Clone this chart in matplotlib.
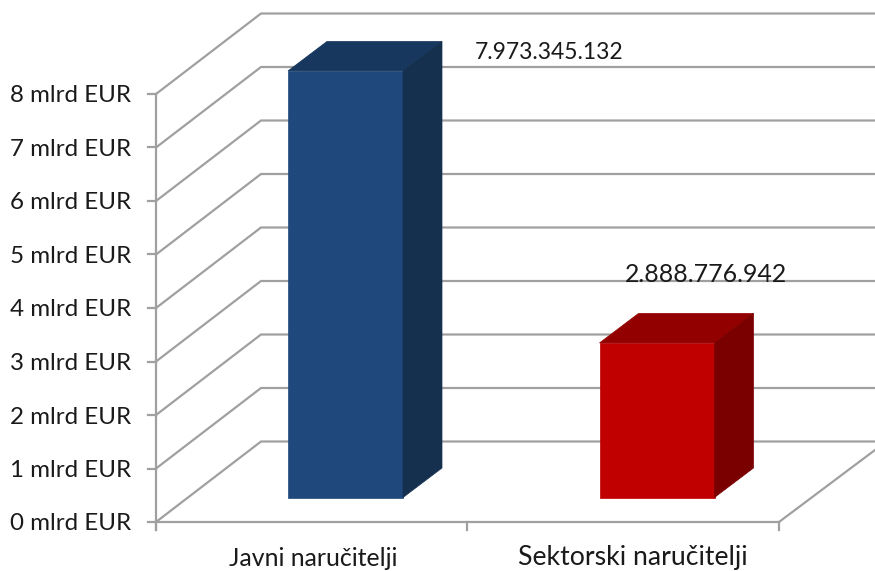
import matplotlib
matplotlib.use("Agg")
import matplotlib.pyplot as plt
from matplotlib.patches import Polygon

categories = ["Javni naručitelji", "Sektorski naručitelji"]
values = [7973345132, 2888776942]
value_labels = ["7.973.345.132", "2.888.776.942"]
tick_values = [0, 1, 2, 3, 4, 5, 6, 7, 8]
tick_labels = [f"{t} mlrd EUR" for t in tick_values]

plt.rcParams["font.family"] = ["Lato", "DejaVu Sans"]

W, H = 875, 571
UNIT = 53.5      # px per 1 mlrd
Y0 = 522         # px row of the zero line
TEXT = "#1a1a1a"
GRID = "#a0a0a0"

fig = plt.figure(figsize=(W / 100, H / 100), dpi=100)
ax = fig.add_axes([0, 0, 1, 1])
# x stays in pixels, y is in mlrd EUR
ax.set_xlim(0, W)
ax.set_ylim((Y0 - H) / UNIT, Y0 / UNIT)
ax.axis("off")

px = 1 / UNIT
# 3D offset of the back wall
wall_dx, wall_dy = 105, 80.5 * px
x_left, x_right = 156, 779

# gridlines: side wall then back wall
for t in tick_values:
    ax.plot([x_left, x_left + wall_dx, W], [t, t + wall_dy, t + wall_dy],
            color=GRID, lw=1.6, solid_joinstyle="miter", zorder=1)
    ax.plot([x_left - 8, x_left], [t, t], color=GRID, lw=1.6, zorder=1)
    ax.text(131, t - 2 * px, tick_labels[t], ha="right", va="center", fontsize=17.4, color=TEXT)

# axes and floor
ax.plot([x_left, x_left], [-8 * px, tick_values[-1]], color=GRID, lw=1.6, zorder=1)
ax.plot([x_left, x_right], [0, 0], color=GRID, lw=1.6, zorder=1)
ax.plot([x_right, W], [0, 72 * px], color=GRID, lw=1.6, zorder=1)
for xt in (x_left, 467, x_right):
    ax.plot([xt, xt], [0, -8 * px], color=GRID, lw=1.6, zorder=1)

# bars
bar_left = [288, 599.5]
bar_w = 115
bar_base = 24.5 * px
dep_x, dep_y = 39, 29.5 * px
bar_colors = [("#1F497D", "#17375E", "#152F4F"), ("#C00000", "#920000", "#7A0000")]
label_pos = [(549, 53, 16.5), (706, 275, 17.9)]
cat_pos = [(313, 17.9), (633, 19.2)]

for i, v in enumerate(values):
    top = v / 1e9 + bar_base
    l, r = bar_left[i], bar_left[i] + bar_w
    front, upper, side = bar_colors[i]
    ax.add_patch(Polygon([(l, bar_base), (r, bar_base), (r, top), (l, top)],
                         fc=front, ec=front, lw=0.5, zorder=3))
    ax.add_patch(Polygon([(l, top), (r, top), (r + dep_x, top + dep_y), (l + dep_x, top + dep_y)],
                         fc=upper, ec=upper, lw=0.5, zorder=3))
    ax.add_patch(Polygon([(r, bar_base), (r + dep_x, bar_base + dep_y),
                          (r + dep_x, top + dep_y), (r, top)],
                         fc=side, ec=side, lw=0.5, zorder=3))
    lx, ly, fs = label_pos[i]
    ax.text(lx, (Y0 - ly) / UNIT, value_labels[i], ha="center", va="center",
            fontsize=fs, color=TEXT, zorder=4)
    cx, fs = cat_pos[i]
    ax.text(cx, (Y0 - 558) / UNIT, categories[i], ha="center", va="center",
            fontsize=fs, color=TEXT)

fig.savefig("out.png", dpi=100)
plt.close(fig)
